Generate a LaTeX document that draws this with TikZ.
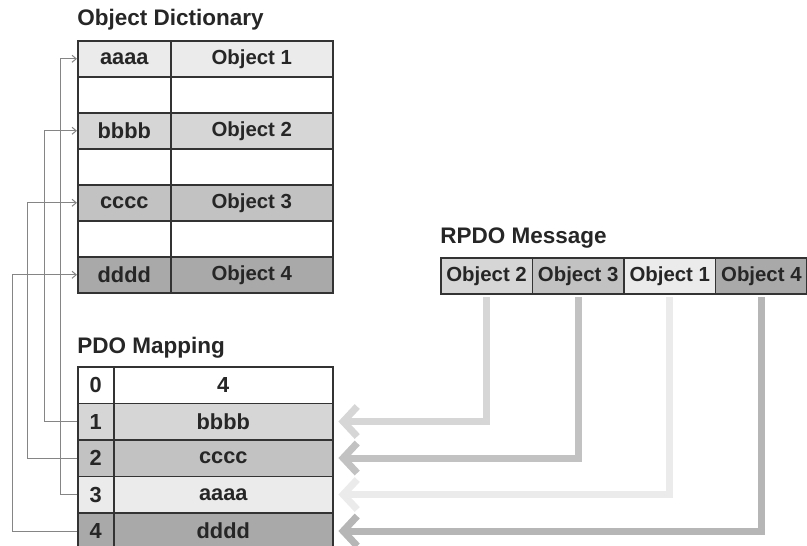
\documentclass[tikz,border=0pt]{standalone}
\usepackage{fontspec}
\setmainfont{Liberation Sans}
\definecolor{objone}{HTML}{EBEBEB}
\definecolor{objtwo}{HTML}{D6D6D6}
\definecolor{objthree}{HTML}{C2C2C2}
\definecolor{objfour}{HTML}{A9A9A9}
\definecolor{gridline}{HTML}{333333}
\definecolor{linkgray}{HTML}{858585}
\usetikzlibrary{
    arrows.meta,
    positioning
}

\begin{document}
\begin{tikzpicture}[x=0.025cm, y=-0.025cm,
            cell/.style={draw=gridline, line width=1.1pt, inner sep=0pt, anchor=north west, minimum height=0.9cm, text=black!85, font=\fontsize{14.5}{16}\selectfont\bfseries},
            keycell/.style={cell, minimum width=2.325cm, font=\fontsize{15.5}{17}\selectfont\bfseries},
            valcell/.style={cell, minimum width=4.05cm},
            idxcell/.style={cell, minimum width=0.9cm, minimum height=0.9125cm, font=\fontsize{15.5}{17}\selectfont\bfseries},
            mapcell/.style={cell, minimum width=5.475cm, minimum height=0.9125cm, font=\fontsize{15.5}{17}\selectfont\bfseries},
            msgcell/.style={cell, minimum width=2.29cm},
            heading/.style={anchor=west, inner sep=0pt, text=black!85, font=\fontsize{16}{18}\selectfont\bfseries},
            mapline/.style={draw=linkgray, line width=0.7pt, -{Straight Barb[length=3pt, width=5pt]}},
            mapflow/.style={line width=5pt, -{Straight Barb[length=0.35cm, width=0.75cm]}, shorten >=0.12cm, shorten <=2pt}]
            \useasboundingbox (0,0) rectangle (807,545);

            % Object dictionary
            \node[heading] (odtitle) at (77,20) {Object Dictionary};
            \node[keycell, fill=objone] (odk1) at (77,40) {aaaa};
            \node[valcell, fill=objone] (odv1) at (170,40) {Object 1};
            \node[keycell, fill=white] (odk2) at (77,76) {};
            \node[valcell, fill=white] (odv2) at (170,76) {};
            \node[keycell, fill=objtwo] (odk3) at (77,112) {bbbb};
            \node[valcell, fill=objtwo] (odv3) at (170,112) {Object 2};
            \node[keycell, fill=white] (odk4) at (77,148) {};
            \node[valcell, fill=white] (odv4) at (170,148) {};
            \node[keycell, fill=objthree] (odk5) at (77,184) {cccc};
            \node[valcell, fill=objthree] (odv5) at (170,184) {Object 3};
            \node[keycell, fill=white] (odk6) at (77,220) {};
            \node[valcell, fill=white] (odv6) at (170,220) {};
            \node[keycell, fill=objfour] (odk7) at (77,256) {dddd};
            \node[valcell, fill=objfour] (odv7) at (170,256) {Object 4};

            % PDO mapping
            \node[heading] (pmtitle) at (77,348) {PDO Mapping};
            \node[idxcell, fill=white] (pmi0) at (77,366) {0};
            \node[mapcell, fill=white] (pmv0) at (113,366) {4};
            \node[idxcell, fill=objtwo] (pmi1) at (77,402.5) {1};
            \node[mapcell, fill=objtwo] (pmv1) at (113,402.5) {bbbb};
            \node[idxcell, fill=objthree] (pmi2) at (77,439) {2};
            \node[mapcell, fill=objthree] (pmv2) at (113,439) {cccc};
            \node[idxcell, fill=objone] (pmi3) at (77,475.5) {3};
            \node[mapcell, fill=objone] (pmv3) at (113,475.5) {aaaa};
            \node[idxcell, fill=objfour] (pmi4) at (77,512) {4};
            \node[mapcell, fill=objfour] (pmv4) at (113,512) {dddd};

            % RPDO message
            \node[heading] (rptitle) at (440,238) {RPDO Message};
            \node[msgcell, fill=objtwo] (rp2) at (440,257) {Object 2};
            \node[msgcell, fill=objthree] (rp3) at (531.6,257) {Object 3};
            \node[msgcell, fill=objone] (rp1) at (623.2,257) {Object 1};
            \node[msgcell, fill=objfour] (rp4) at (714.8,257) {Object 4};

            % Mapping entries -> dictionary
            \draw[mapline] (pmi1.west) -- ++(-33,0) |- (odk3.west);
            \draw[mapline] (pmi2.west) -- ++(-50,0) |- (odk5.west);
            \draw[mapline] (pmi3.west) -- ++(-17,0) |- (odk1.west);
            \draw[mapline] (pmi4.west) -- ++(-65,0) |- (odk7.west);

            % Message objects -> mapping entries
            \draw[mapflow, draw=objtwo] (rp2.south) |- (pmv1.east);
            \draw[mapflow, draw=objthree] (rp3.south) |- (pmv2.east);
            \draw[mapflow, draw=objone] (rp1.south) |- (pmv3.east);
            \draw[mapflow, draw=objfour!85] (rp4.south) |- (pmv4.east);
        \end{tikzpicture}
\end{document}
